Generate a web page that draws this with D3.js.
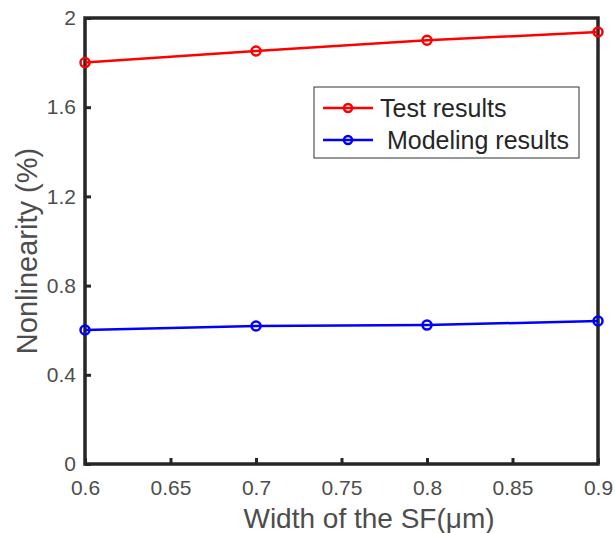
<!DOCTYPE html>
<html>
<head>
<meta charset="utf-8">
<script src="https://cdn.jsdelivr.net/npm/d3@7"></script>
<style>
  body { margin: 0; background: #fff; }
  text { font-family: "Liberation Sans", Arial, sans-serif; fill: #262626; }
</style>
</head>
<body>
<svg id="chart" width="615" height="533"></svg>
<script>
const widths = [0.6, 0.7, 0.8, 0.9];
const testResults = [1.80, 1.852, 1.90, 1.937];
const modelResults = [0.601, 0.619, 0.623, 0.641];
const xTicks = [0.6, 0.65, 0.7, 0.75, 0.8, 0.85, 0.9];
const yTicks = [0, 0.4, 0.8, 1.2, 1.6, 2];

const series = [
    { name: 'Test results', values: testResults, color: '#ff0000' },
    { name: ' Modeling results', values: modelResults, color: '#0000ff' }
];

const svg = d3.select('#chart');
const margin = { left: 85, right: 17, top: 18, bottom: 69 };
const W = 615, H = 533;

const x = d3.scaleLinear().domain([0.6, 0.9]).range([margin.left, W - margin.right]);
const y = d3.scaleLinear().domain([0, 2]).range([H - margin.bottom, margin.top]);

const axisColor = '#262626';
const labelColor = '#4d4d4d';

// x axis
const xAxis = svg.append('g')
    .attr('transform', `translate(0,${y(0)})`)
    .call(d3.axisBottom(x).tickValues(xTicks).tickSize(-6).tickPadding(16)
        .tickFormat(d => String(+d.toFixed(2))));
xAxis.select('.domain').remove();
xAxis.selectAll('line').attr('stroke', axisColor).attr('stroke-width', 3);
xAxis.selectAll('text').style('font-size', '21px').style('fill', labelColor);

// y axis
const yAxis = svg.append('g')
    .attr('transform', `translate(${x(0.6)},0)`)
    .call(d3.axisLeft(y).tickValues(yTicks).tickSize(-6).tickPadding(9)
        .tickFormat(d => String(+d.toFixed(1))));
yAxis.select('.domain').remove();
yAxis.selectAll('line').attr('stroke', axisColor).attr('stroke-width', 3);
yAxis.selectAll('text').style('font-size', '21px').style('fill', labelColor);

// frame
svg.append('rect')
    .attr('x', x(0.6)).attr('y', y(2))
    .attr('width', x(0.9) - x(0.6)).attr('height', y(0) - y(2))
    .attr('fill', 'none').attr('stroke', axisColor).attr('stroke-width', 3.5);

const line = d3.line().x((d, i) => x(widths[i])).y(d => y(d));

series.forEach(s => {
    svg.append('path')
        .datum(s.values)
        .attr('d', line)
        .attr('fill', 'none')
        .attr('stroke', s.color)
        .attr('stroke-width', 2.5);
    svg.selectAll(null)
        .data(s.values)
        .join('circle')
        .attr('cx', (d, i) => x(widths[i]))
        .attr('cy', d => y(d))
        .attr('r', 4.5)
        .attr('fill', 'none')
        .attr('stroke', s.color)
        .attr('stroke-width', 2.5);
});

// legend
const legend = svg.append('g').attr('transform', 'translate(314,87)');
legend.append('rect')
    .attr('width', 265).attr('height', 71)
    .attr('fill', '#fff').attr('stroke', '#333').attr('stroke-width', 1);
series.forEach((s, i) => {
    const ly = 21 + i * 32;
    legend.append('line')
        .attr('x1', 9).attr('x2', 59).attr('y1', ly).attr('y2', ly)
        .attr('stroke', s.color).attr('stroke-width', 2.5);
    legend.append('circle')
        .attr('cx', 34).attr('cy', ly).attr('r', 4)
        .attr('fill', 'none').attr('stroke', s.color).attr('stroke-width', 2.5);
    legend.append('text')
        .attr('x', 66).attr('y', ly)
        .attr('dy', '0.35em')
        .style('font-size', '25px')
        .style('white-space', 'pre')
        .text(s.name);
});

// axis labels
svg.append('text')
    .attr('x', 369).attr('y', 528)
    .attr('text-anchor', 'middle')
    .style('font-size', '28px').style('fill', labelColor)
    .text('Width of the SF(μm)');

svg.append('text')
    .attr('transform', `translate(37,251) rotate(-90)`)
    .attr('text-anchor', 'middle')
    .style('font-size', '29px').style('fill', labelColor)
    .text('Nonlinearity (%)');
</script>
</body>
</html>
